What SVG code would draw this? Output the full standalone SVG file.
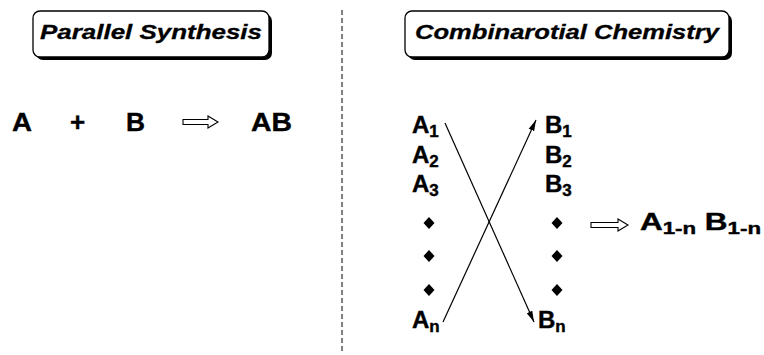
<svg xmlns="http://www.w3.org/2000/svg" width="764" height="355" viewBox="0 0 764 355">
  <style>
    .title { font-family: "Liberation Sans", Arial, sans-serif; font-weight: bold; font-style: italic; font-size: 21px; fill: #000; stroke: #000; stroke-width: 0.3; }
    .chem { font-family: "Liberation Sans", Arial, sans-serif; font-weight: bold; font-size: 24px; fill: #000; stroke: #000; stroke-width: 0.4; }
    .big { font-size: 26px; }
    .sub { font-size: 17px; }
    .box { fill: #fff; stroke: #000; stroke-width: 1.3; }
    .shadow { fill: #000; }
    .hollow { fill: #fff; stroke: #000; stroke-width: 1.1; stroke-linejoin: miter; }
    .conn { stroke: #000; stroke-width: 1.2; fill: none; }
    .dot { fill: #000; }
  </style>
  <defs>
    <marker id="head" markerWidth="12" markerHeight="8" refX="11" refY="4" orient="auto" markerUnits="userSpaceOnUse">
      <path d="M0,1 L11,4 L0,7 Z" fill="#000"/>
    </marker>
    <path id="diamond" d="M0,-6 L5.5,0 L0,6 L-5.5,0 Z"/>
  </defs>

  <rect width="764" height="355" fill="#fff"/>

  <!-- divider between the two schemes -->
  <line x1="342" y1="10" x2="342" y2="352" stroke="#000" stroke-width="1" stroke-dasharray="5 3"/>

  <!-- left: parallel synthesis -->
  <g id="title-parallel">
    <rect class="shadow" x="36" y="14" width="236" height="46" rx="7"/>
    <rect class="box" x="33" y="11" width="236" height="46" rx="7"/>
    <text class="title" x="40" y="38.5" textLength="222" lengthAdjust="spacingAndGlyphs">Parallel Synthesis</text>
  </g>

  <g id="reactant-A"><text class="chem big" x="12" y="131" textLength="20" lengthAdjust="spacingAndGlyphs">A</text></g>
  <g id="plus"><text class="chem big" x="70" y="131">+</text></g>
  <g id="reactant-B"><text class="chem big" x="126" y="131" textLength="19" lengthAdjust="spacingAndGlyphs">B</text></g>
  <g id="arrow-parallel">
    <path class="hollow" d="M183,119.5 H208 V116 L218,122 L208,128 V124.5 H183 Z"/>
  </g>
  <g id="product-AB"><text class="chem big" x="251" y="131" textLength="41" lengthAdjust="spacingAndGlyphs">AB</text></g>

  <!-- right: combinatorial chemistry -->
  <g id="title-combinatorial">
    <rect class="shadow" x="408" y="14" width="324" height="46" rx="7"/>
    <rect class="box" x="405" y="11" width="324" height="46" rx="7"/>
    <text class="title" x="415" y="38.5" textLength="304" lengthAdjust="spacingAndGlyphs">Combinarotial Chemistry</text>
  </g>

  <g id="A-column">
    <text class="chem" x="412" y="133">A<tspan class="sub" dy="4">1</tspan></text>
    <text class="chem" x="412" y="163">A<tspan class="sub" dy="4">2</tspan></text>
    <text class="chem" x="412" y="192">A<tspan class="sub" dy="4">3</tspan></text>
    <use href="#diamond" class="dot" x="429" y="223"/>
    <use href="#diamond" class="dot" x="429" y="256"/>
    <use href="#diamond" class="dot" x="429" y="290"/>
    <text class="chem" x="412" y="328">A<tspan class="sub" dy="4">n</tspan></text>
  </g>

  <g id="B-column">
    <text class="chem" x="545" y="133">B<tspan class="sub" dy="4">1</tspan></text>
    <text class="chem" x="545" y="163">B<tspan class="sub" dy="4">2</tspan></text>
    <text class="chem" x="545" y="192">B<tspan class="sub" dy="4">3</tspan></text>
    <use href="#diamond" class="dot" x="557" y="223"/>
    <use href="#diamond" class="dot" x="557" y="256"/>
    <use href="#diamond" class="dot" x="557" y="290"/>
    <text class="chem" x="538" y="328">B<tspan class="sub" dy="4">n</tspan></text>
  </g>

  <g id="arrow-combinatorial">
    <path class="hollow" d="M591,222.5 H618 V219 L628,225 L618,231 V227.5 H591 Z"/>
  </g>

  <g id="product-library">
    <text class="chem" x="640" y="230" textLength="121" lengthAdjust="spacingAndGlyphs">A<tspan class="sub" dy="4">1-n</tspan><tspan dy="-4"> B</tspan><tspan class="sub" dy="4">1-n</tspan></text>
  </g>

  <g id="connectors">
    <line class="conn" x1="445" y1="123" x2="534" y2="322" marker-end="url(#head)"/>
    <line class="conn" x1="443" y1="322" x2="536" y2="120" marker-end="url(#head)"/>
  </g>
</svg>
